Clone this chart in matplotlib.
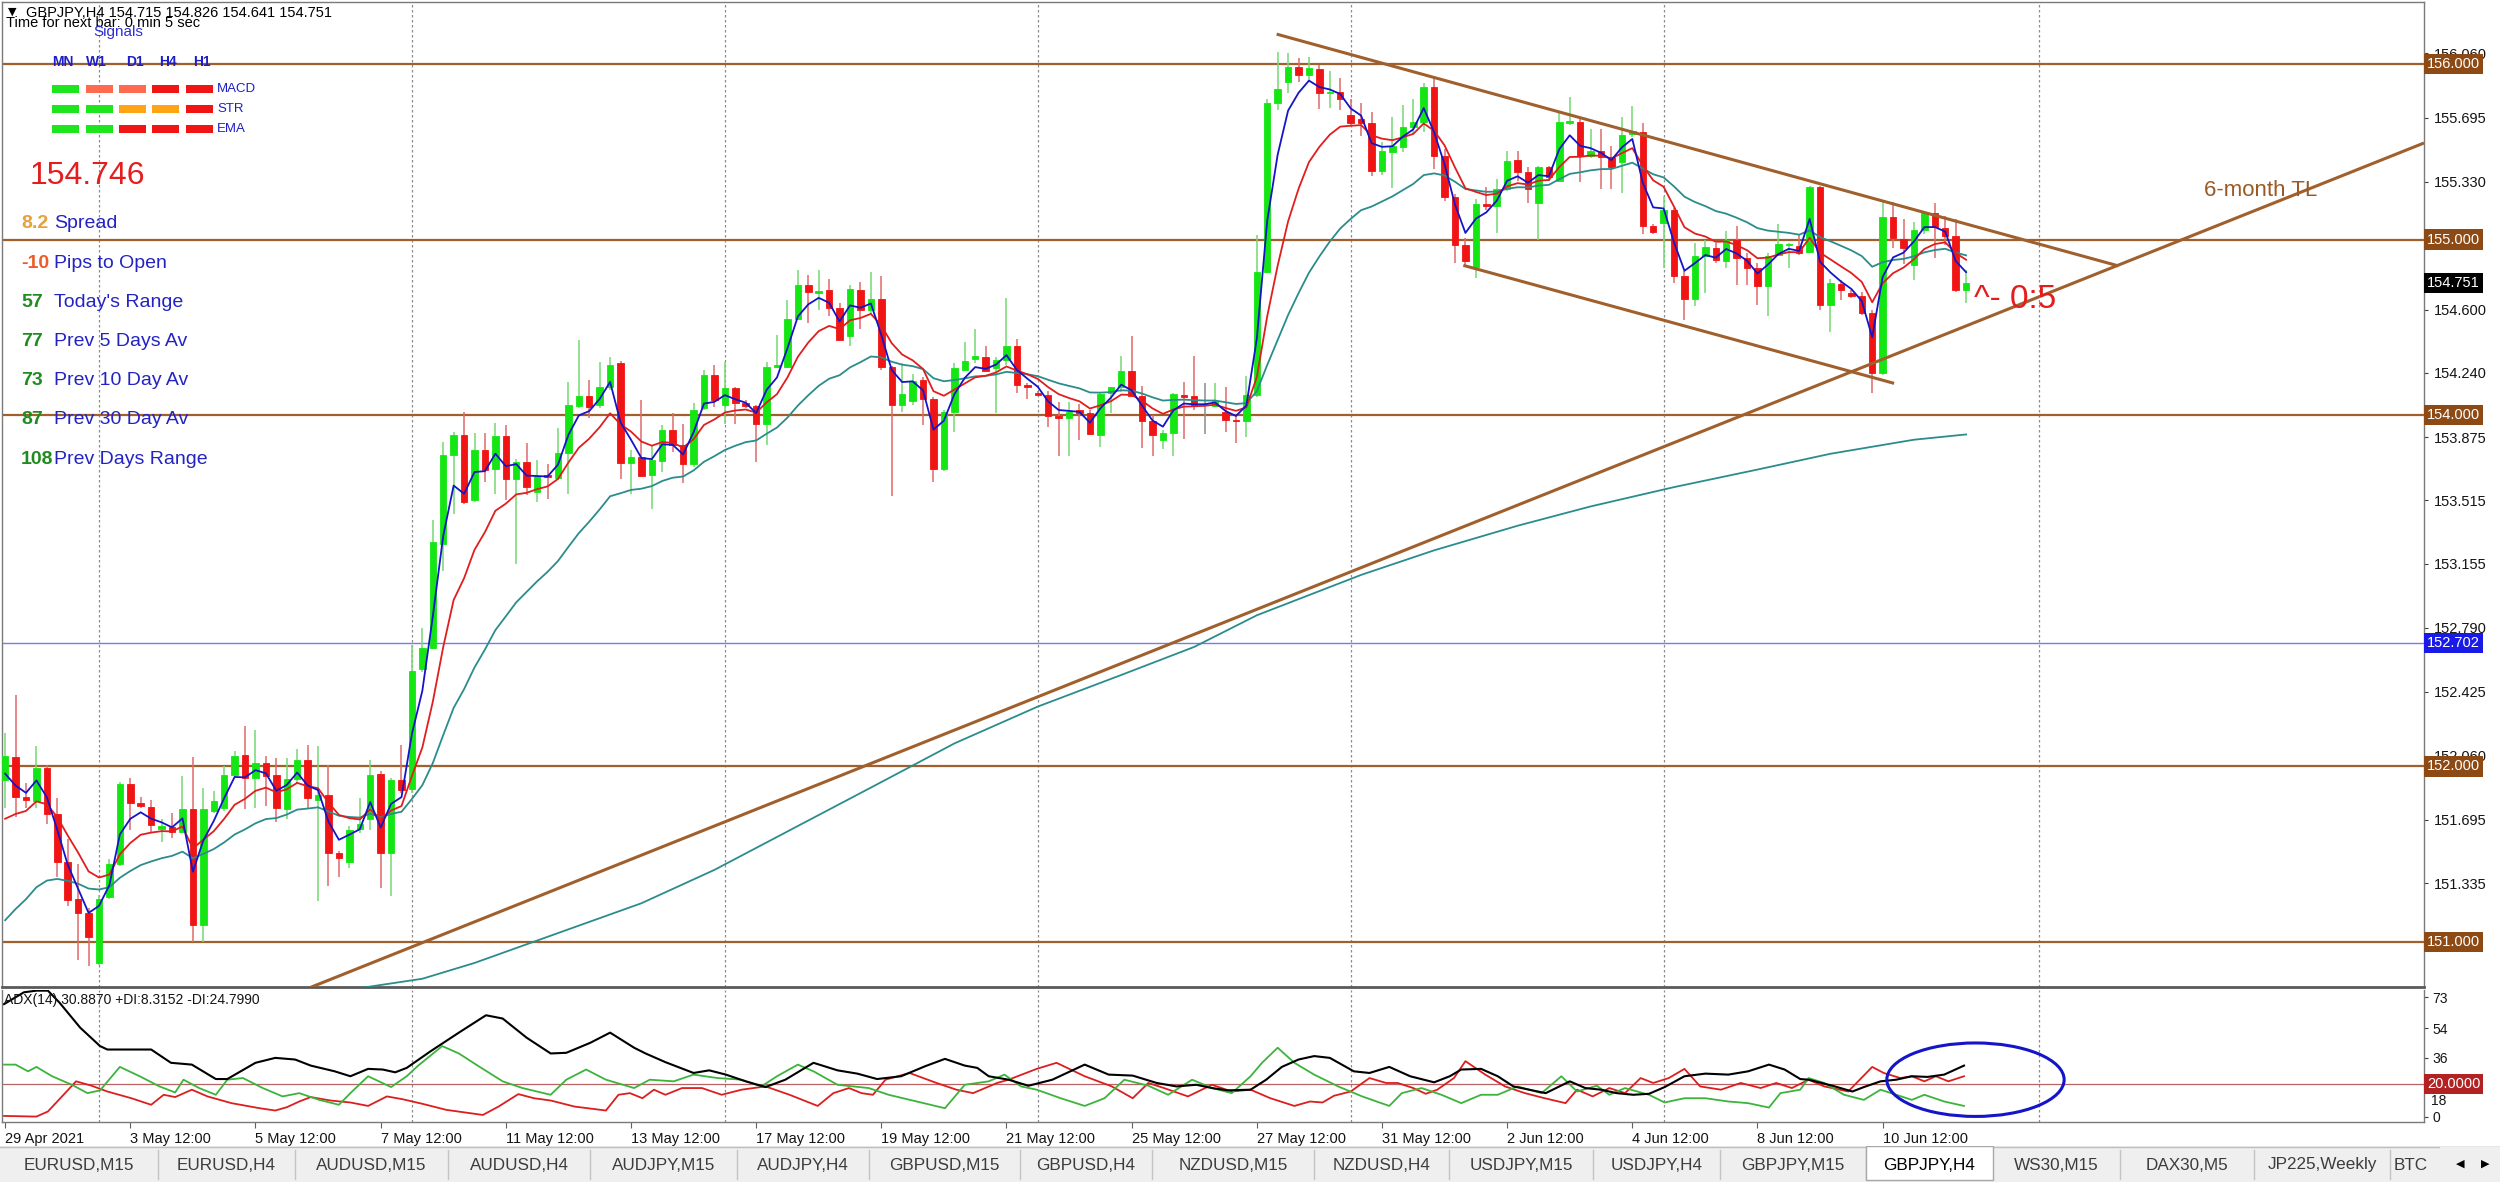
import matplotlib
matplotlib.use("Agg")
import matplotlib.pyplot as plt
from matplotlib.patches import Ellipse, Rectangle
import numpy as np
import pandas as pd

plt.rcParams['font.family'] = ['Liberation Sans', 'DejaVu Sans']

# ---------------- data ----------------
symbol = 'GBPJPY,H4'

# H4 candles, bar 0 = 29 Apr 2021 12:00
opens = [
    151.921, 152.052, 151.827, 151.800, 151.990, 151.728, 151.453, 151.245, 151.162, 150.881,
    151.256, 151.443, 151.900, 151.790, 151.770, 151.644, 151.657, 151.624, 151.755, 151.096,
    151.748, 151.765, 151.948, 152.064, 151.935, 152.019, 151.948, 151.755, 151.927, 152.035,
    151.810, 151.838, 151.505, 151.453, 151.644, 151.700, 151.958, 151.505, 151.921, 151.869,
    152.552, 152.676, 153.267, 153.771, 153.886, 153.518, 153.800, 153.695, 153.880, 153.638,
    153.733, 153.562, 153.657, 153.644, 153.785, 154.051, 154.109, 154.057, 154.162, 154.295,
    153.728, 153.762, 153.657, 153.739, 153.918, 153.829, 153.720, 154.038, 154.229, 154.057,
    154.156, 154.067, 154.051, 153.949, 154.276, 154.276, 154.547, 154.743, 154.695, 154.713,
    154.612, 154.449, 154.713, 154.598, 154.660, 154.277, 154.057, 154.082, 154.201, 154.090,
    153.694, 154.019, 154.258, 154.319, 154.331, 154.268, 154.315, 154.396, 154.172, 154.124,
    154.115, 153.994, 153.981, 154.029, 154.013, 153.885, 154.128, 154.159, 154.249, 154.109,
    153.967, 153.860, 153.899, 154.115, 154.109, 154.063, 154.052, 154.019, 153.975, 153.967,
    154.115, 154.818, 155.780, 155.899, 155.985, 155.937, 155.971, 155.832, 155.841, 155.711,
    155.685, 155.665, 155.392, 155.497, 155.526, 155.641, 155.669, 155.870, 155.474, 155.245,
    154.971, 154.843, 155.200, 155.191, 155.287, 155.455, 155.386, 155.210, 155.411, 155.335,
    155.665, 155.669, 155.474, 155.507, 155.468, 155.440, 155.602, 155.612, 155.076, 155.095,
    155.171, 154.790, 154.661, 154.909, 154.952, 154.876, 154.996, 154.895, 154.838, 154.733,
    154.914, 154.971, 154.962, 154.928, 155.299, 154.629, 154.747, 154.695, 154.680, 154.581,
    154.238, 155.130, 155.004, 154.857, 155.053, 155.152, 155.067, 155.019, 154.715,
]
highs = [
    152.190, 152.405, 151.906, 152.114, 152.010, 151.817, 151.588, 151.443, 151.193, 151.266,
    151.474, 151.910, 151.931, 151.827, 151.810, 151.700, 151.735, 151.942, 152.052, 151.879,
    151.860, 152.004, 152.087, 152.227, 152.206, 152.056, 152.046, 152.046, 152.100, 152.119,
    152.114, 152.010, 151.515, 151.660, 151.817, 152.035, 151.973, 151.931, 152.119, 152.690,
    152.790, 153.400, 153.848, 153.905, 154.019, 153.900, 153.900, 153.956, 153.943, 153.752,
    153.842, 153.743, 153.720, 153.924, 154.190, 154.429, 154.200, 154.305, 154.333, 154.309,
    153.800, 154.086, 153.829, 153.943, 154.013, 153.952, 154.067, 154.257, 154.286, 154.305,
    154.162, 154.086, 154.057, 154.300, 154.457, 154.653, 154.829, 154.800, 154.829, 154.774,
    154.641, 154.740, 154.759, 154.813, 154.790, 154.281, 154.296, 154.235, 154.216, 154.105,
    154.029, 154.296, 154.415, 154.488, 154.392, 154.331, 154.669, 154.434, 154.185, 154.140,
    154.140, 154.076, 154.076, 154.063, 154.029, 154.128, 154.163, 154.338, 154.449, 154.168,
    153.999, 153.914, 154.124, 154.191, 154.338, 154.185, 154.185, 154.159, 154.009, 154.224,
    155.027, 155.800, 156.070, 156.060, 156.036, 156.042, 155.994, 155.960, 155.918, 155.800,
    155.780, 155.726, 155.555, 155.700, 155.765, 155.803, 155.890, 155.927, 155.516, 155.260,
    155.010, 155.230, 155.300, 155.344, 155.507, 155.507, 155.411, 155.420, 155.420, 155.727,
    155.813, 155.685, 155.631, 155.631, 155.535, 155.700, 155.761, 155.665, 155.086, 155.248,
    155.181, 154.819, 154.981, 154.996, 154.981, 155.048, 155.076, 154.924, 154.866, 154.924,
    155.090, 154.981, 155.029, 155.305, 155.305, 154.775, 154.771, 154.714, 154.700, 154.600,
    155.213, 155.213, 155.118, 155.100, 155.156, 155.206, 155.133, 155.118, 154.826,
]
lows = [
    151.765, 151.713, 151.761, 151.765, 151.672, 151.370, 151.204, 150.896, 150.861, 150.870,
    151.245, 151.433, 151.640, 151.765, 151.620, 151.568, 151.590, 151.620, 151.000, 151.000,
    151.735, 151.745, 151.931, 151.755, 151.765, 151.775, 151.680, 151.697, 151.900, 151.765,
    151.235, 151.318, 151.370, 151.420, 151.619, 151.640, 151.308, 151.262, 151.850, 151.850,
    152.535, 152.667, 153.114, 153.438, 153.495, 153.505, 153.620, 153.552, 153.514, 153.152,
    153.548, 153.505, 153.524, 153.630, 153.552, 154.038, 153.985, 154.038, 154.143, 153.638,
    153.552, 153.648, 153.467, 153.676, 153.790, 153.613, 153.705, 154.029, 154.048, 153.952,
    153.949, 154.038, 153.733, 153.829, 154.266, 154.266, 154.543, 154.524, 154.600, 154.564,
    154.426, 154.392, 154.488, 154.573, 154.258, 153.541, 154.019, 154.057, 153.943, 153.618,
    153.680, 153.904, 154.258, 154.296, 154.249, 154.010, 154.287, 154.124, 154.090, 154.115,
    153.933, 153.770, 153.770, 153.857, 153.885, 153.818, 154.013, 154.134, 154.105, 153.815,
    153.770, 153.809, 153.770, 153.866, 154.030, 153.891, 154.048, 153.904, 153.841, 153.876,
    154.105, 154.808, 155.736, 155.833, 155.898, 155.910, 155.742, 155.750, 155.736, 155.650,
    155.590, 155.360, 155.365, 155.296, 155.497, 155.602, 155.612, 155.402, 155.220, 154.866,
    154.857, 154.780, 155.170, 155.038, 155.277, 155.333, 155.210, 155.000, 155.335, 155.325,
    155.650, 155.325, 155.464, 155.287, 155.287, 155.268, 155.583, 155.029, 155.029, 154.838,
    154.752, 154.543, 154.623, 154.695, 154.866, 154.838, 154.743, 154.743, 154.629, 154.562,
    154.905, 154.838, 154.914, 154.924, 154.600, 154.476, 154.657, 154.667, 154.571, 154.128,
    154.228, 154.952, 154.862, 154.768, 155.030, 154.895, 154.971, 154.700, 154.641,
]
closes = [
    152.056, 151.823, 151.807, 151.990, 151.728, 151.453, 151.241, 151.166, 151.027, 151.245,
    151.443, 151.900, 151.790, 151.775, 151.665, 151.660, 151.624, 151.755, 151.096, 151.755,
    151.800, 151.948, 152.060, 151.935, 152.019, 151.942, 151.761, 151.927, 152.035, 151.817,
    151.838, 151.505, 151.478, 151.640, 151.672, 151.952, 151.505, 151.921, 151.863, 152.545,
    152.676, 153.276, 153.771, 153.886, 153.505, 153.800, 153.686, 153.880, 153.638, 153.733,
    153.590, 153.651, 153.648, 153.785, 154.057, 154.109, 154.048, 154.162, 154.286, 153.728,
    153.762, 153.651, 153.743, 153.918, 153.829, 153.720, 154.029, 154.229, 154.086, 154.152,
    154.067, 154.051, 153.952, 154.276, 154.286, 154.547, 154.743, 154.700, 154.705, 154.612,
    154.426, 154.717, 154.598, 154.660, 154.277, 154.057, 154.120, 154.197, 154.090, 153.694,
    154.019, 154.268, 154.306, 154.335, 154.254, 154.312, 154.396, 154.172, 154.159, 154.115,
    153.994, 153.981, 154.019, 154.013, 153.895, 154.120, 154.159, 154.249, 154.109, 153.967,
    153.885, 153.899, 154.120, 154.105, 154.057, 154.063, 154.082, 153.975, 153.967, 154.115,
    154.816, 155.780, 155.860, 155.985, 155.937, 155.975, 155.832, 155.841, 155.803, 155.665,
    155.665, 155.392, 155.507, 155.535, 155.641, 155.669, 155.870, 155.474, 155.245, 154.971,
    154.876, 155.200, 155.191, 155.287, 155.449, 155.386, 155.287, 155.411, 155.354, 155.669,
    155.673, 155.474, 155.507, 155.468, 155.411, 155.597, 155.621, 155.076, 155.042, 155.171,
    154.790, 154.661, 154.909, 154.958, 154.882, 154.996, 154.895, 154.838, 154.733, 154.909,
    154.977, 154.977, 154.924, 155.299, 154.629, 154.752, 154.710, 154.676, 154.581, 154.238,
    155.130, 155.010, 154.952, 155.053, 155.152, 155.072, 155.019, 154.710, 154.751,
]

# moving averages: periods and their values at the left edge of the chart
ema_periods = [21, 8, 3]
ema_start = [151.03, 151.60, 151.86]

# slow average (bar, price)
long_ma = [(31, 150.71), (40, 150.79), (45, 150.88), (53, 151.05), (61, 151.22),
           (68, 151.41), (76, 151.66), (84, 151.91), (91, 152.13), (99, 152.34),
           (107, 152.52), (114, 152.68), (120, 152.86), (130, 153.09), (137, 153.23),
           (145, 153.37), (152, 153.48), (160, 153.59), (168, 153.69), (175, 153.78),
           (183, 153.86), (188, 153.89)]

date_labels = ['29 Apr 2021', '3 May 12:00', '5 May 12:00', '7 May 12:00', '11 May 12:00',
               '13 May 12:00', '17 May 12:00', '19 May 12:00', '21 May 12:00', '25 May 12:00',
               '27 May 12:00', '31 May 12:00', '2 Jun 12:00', '4 Jun 12:00', '8 Jun 12:00',
               '10 Jun 12:00']
bars_per_label = 12
grid_bars = [9, 39, 69, 99, 129, 159, 195]

h_levels = [156.0, 155.0, 154.0, 152.0, 151.0]
blue_level = 152.702
price_ticks = [156.060, 155.695, 155.330, 154.600, 154.240, 153.875, 153.515,
               153.155, 152.790, 152.425, 152.060, 151.695, 151.335]

# drawn objects (bar, price)
tl_6m = [(29.2, 150.739), (231.9, 155.55)]
chan_top = [(121.9, 156.17), (202.6, 154.85)]
chan_bot = [(139.8, 154.853), (181.1, 154.181)]

# ADX(14) window (bar, value)
adx = [(-0.1, 68.8), (1.8, 76.0), (3.0, 77.0), (4.1, 77.0), (5.2, 69.8), (7.2, 54.4), (9.1, 43.2),
       (9.8, 41.1), (14.0, 41.1), (15.9, 33.0), (17.9, 31.9), (20.2, 23.1), (21.3, 23.1), (24.0, 33.0),
       (25.9, 36.0), (27.8, 35.0), (29.3, 31.3), (31.6, 27.8), (33.1, 24.8), (34.8, 29.3), (36.2, 28.9),
       (37.4, 27.2), (38.5, 29.9), (40.8, 40.1), (43.5, 51.4), (46.1, 62.0), (47.7, 60.0), (50.0, 48.3),
       (52.3, 38.7), (53.8, 39.1), (56.1, 45.2), (58.0, 51.4), (60.3, 42.2), (61.4, 38.7), (63.3, 33.4),
       (66.0, 26.8), (67.5, 28.4), (69.1, 25.8), (71.0, 21.7), (72.9, 18.2), (74.8, 22.7), (77.5, 33.0),
       (79.8, 28.4), (81.7, 26.4), (83.6, 23.1), (85.9, 24.8), (88.2, 30.9), (90.1, 35.4), (92.0, 31.3),
       (93.2, 29.9), (94.3, 24.8), (96.2, 22.7), (98.1, 19.0), (100.4, 22.7), (103.5, 31.9), (105.8, 25.8),
       (108.1, 25.2), (110.4, 20.7), (112.3, 18.6), (114.2, 19.6), (115.7, 17.6), (117.2, 16.2),
       (119.4, 16.6), (120.9, 22.7), (122.4, 30.5), (124.0, 35.0), (125.5, 37.1), (127.0, 36.0),
       (129.3, 27.8), (130.8, 26.8), (132.7, 30.5), (134.7, 24.8), (137.0, 21.1), (138.5, 24.8),
       (139.6, 28.9), (141.5, 29.3), (143.1, 24.8), (144.6, 18.6), (147.7, 14.5), (150.0, 21.7),
       (151.5, 17.6), (153.0, 16.6), (154.5, 14.5), (156.1, 13.5), (157.6, 14.1), (159.1, 18.2),
       (161.0, 24.8), (163.0, 26.4), (165.2, 25.8), (167.1, 27.8), (169.1, 31.9), (170.6, 28.9),
       (172.1, 23.1), (172.9, 22.7), (175.2, 19.0), (177.1, 15.5), (178.2, 18.2), (179.8, 21.7),
       (181.3, 22.7), (182.8, 24.8), (184.3, 24.4), (185.9, 25.8), (187.8, 31.3)]
plus_di = [(-0.1, 31.9), (1.0, 31.9), (2.2, 27.8), (3.0, 30.5), (4.5, 24.8), (6.4, 19.6), (7.9, 14.5),
           (9.1, 16.2), (11.0, 30.5), (12.9, 24.8), (14.8, 18.6), (16.3, 14.9), (17.1, 22.7), (18.6, 17.6),
           (20.2, 13.5), (21.3, 22.7), (22.8, 23.7), (24.7, 17.6), (26.6, 12.5), (28.2, 14.5), (30.1, 10.4),
           (32.0, 7.4), (33.1, 14.5), (34.8, 24.8), (37.0, 18.2), (38.5, 24.8), (39.6, 31.3), (41.9, 43.2),
           (43.5, 38.7), (45.4, 30.9), (47.7, 21.7), (49.6, 17.6), (52.3, 13.5), (53.8, 22.7), (55.7, 28.9),
           (57.6, 22.7), (60.3, 17.6), (61.8, 22.7), (64.1, 21.7), (66.0, 25.8), (68.3, 23.7), (70.6, 22.7),
           (72.5, 18.6), (74.0, 24.8), (76.0, 31.9), (77.5, 27.8), (79.8, 19.6), (82.8, 17.6), (84.7, 13.5),
           (87.4, 9.4), (90.1, 5.3), (92.0, 19.6), (94.3, 21.7), (95.8, 25.8), (97.4, 18.6), (98.9, 16.6),
           (101.2, 11.4), (103.5, 6.7), (105.4, 11.4), (107.3, 22.7), (109.6, 19.0), (111.5, 13.5),
           (113.8, 22.7), (115.7, 17.6), (117.6, 14.5), (119.4, 24.8), (120.5, 33.0), (122.0, 42.2),
           (123.6, 33.0), (125.5, 25.8), (127.8, 18.6), (130.1, 12.5), (132.7, 6.7), (133.9, 14.5),
           (135.8, 17.6), (137.7, 13.5), (139.6, 8.4), (141.5, 13.5), (143.1, 13.5), (145.0, 18.6),
           (147.3, 14.5), (149.2, 24.8), (150.7, 15.5), (152.6, 19.0), (153.8, 13.5), (155.3, 17.6),
           (157.6, 13.5), (159.1, 8.8), (161.0, 11.4), (163.0, 11.4), (165.2, 9.4), (167.1, 8.4),
           (169.1, 5.7), (170.2, 14.5), (172.1, 16.6), (172.9, 23.7), (174.4, 20.7), (176.3, 13.5),
           (178.2, 10.4), (179.8, 16.6), (181.3, 13.5), (182.8, 10.4), (184.0, 13.5), (185.9, 9.4),
           (187.8, 6.7)]
minus_di = [(-0.1, 0.6), (3.0, 0.2), (4.1, 3.3), (5.6, 13.5), (6.8, 21.7), (8.3, 19.0), (9.8, 15.5),
            (12.1, 11.4), (14.0, 7.4), (15.2, 13.5), (16.3, 12.1), (17.9, 16.6), (19.4, 12.5), (21.7, 8.4),
            (24.4, 5.3), (25.9, 3.9), (27.0, 5.9), (28.2, 9.4), (29.3, 12.1), (31.2, 10.0), (33.1, 8.8),
            (34.8, 6.7), (36.6, 12.5), (38.1, 10.8), (40.0, 8.0), (42.3, 4.3), (45.8, 1.2), (47.3, 6.3),
            (49.2, 13.9), (50.7, 11.4), (52.3, 10.0), (54.6, 6.3), (57.6, 3.9), (58.8, 13.5), (59.9, 14.5),
            (61.1, 11.4), (62.2, 16.6), (63.3, 13.5), (64.9, 17.6), (66.8, 17.6), (68.7, 13.5), (70.6, 16.6),
            (72.9, 18.6), (75.2, 13.5), (77.9, 6.7), (79.4, 14.5), (80.9, 17.6), (82.1, 14.5), (83.2, 13.5),
            (84.4, 22.7), (86.7, 26.8), (89.3, 20.7), (91.2, 16.6), (92.8, 14.5), (95.1, 20.7), (96.2, 22.7),
            (98.9, 29.3), (100.8, 33.0), (103.5, 24.8), (106.1, 18.6), (108.1, 11.4), (109.6, 20.7),
            (111.1, 17.6), (113.4, 12.5), (115.7, 19.6), (117.6, 15.5), (119.4, 16.6), (121.3, 11.4),
            (123.6, 6.7), (125.1, 9.4), (126.3, 8.8), (127.4, 12.9), (129.0, 15.5), (130.8, 23.7),
            (132.4, 20.7), (133.5, 20.7), (135.0, 17.6), (136.2, 14.1), (137.3, 16.6), (138.9, 23.7),
            (140.0, 34.0), (141.9, 25.8), (143.8, 18.6), (145.7, 14.5), (147.6, 11.4), (149.6, 8.4),
            (150.7, 16.6), (152.2, 12.5), (153.8, 17.6), (155.3, 14.5), (156.8, 23.7), (158.0, 20.7),
            (159.5, 23.7), (161.0, 29.3), (162.5, 18.6), (164.5, 16.6), (166.4, 20.7), (168.3, 17.6),
            (169.8, 20.7), (171.3, 17.6), (172.9, 22.7), (174.4, 18.6), (176.7, 15.5), (179.0, 30.5),
            (180.1, 26.8), (181.7, 23.7), (182.8, 24.8), (184.0, 21.7), (185.1, 24.8), (186.3, 21.7),
            (187.8, 24.8)]
adx_header = 'ADX(14) 30.8870 +DI:8.3152 -DI:24.7990'
adx_level = 20
adx_ticks = [0, 18, 36, 54, 73]
circled = (188.9, 22.7, 17.0, 44.8)   # centre bar, centre value, width (bars), height

bid = 154.746
info_values = ['8.2', '-10', '57', '77', '73', '87', '108']
info_names = ['Spread', 'Pips to Open', "Today's Range", 'Prev 5 Days Av',
              'Prev 10 Day Av', 'Prev 30 Day Av', 'Prev Days Range']
signal_periods = ['MN', 'W1', 'D1', 'H4', 'H1']
signal_rows = ['MACD', 'STR', 'EMA']
signal_states = [['up', 'weak', 'weak', 'down', 'down'],
                 ['up', 'up', 'flat', 'flat', 'down'],
                 ['up', 'up', 'down', 'down', 'down']]
tabs = ['EURUSD,M15', 'EURUSD,H4', 'AUDUSD,M15', 'AUDUSD,H4', 'AUDJPY,M15', 'AUDJPY,H4',
        'GBPUSD,M15', 'GBPUSD,H4', 'NZDUSD,M15', 'NZDUSD,H4', 'USDJPY,M15', 'USDJPY,H4',
        'GBPJPY,M15', 'GBPJPY,H4', 'WS30,M15', 'DAX30,M5', 'JP225,Weekly', 'BTC']

# ---------------- layout ----------------
W, H = 2500, 1182
BROWN = '#A0602D'
fig = plt.figure(figsize=(W / 100, H / 100), dpi=100)
fig.patch.set_facecolor('white')


def box(x0, y0, x1, y1):
    return [x0 / W, 1 - y1 / H, (x1 - x0) / W, (y1 - y0) / H]


def put(x, y, s, **kw):
    fig.text(x / W, 1 - y / H, s, va='center', **kw)


ax = fig.add_axes(box(2, 2, 2424, 987))
ax2 = fig.add_axes(box(2, 990, 2424, 1122))
tab_ax = fig.add_axes(box(0, 1146, 2500, 1182))

# ---------------- price window ----------------
o, h, l, c = map(np.array, (opens, highs, lows, closes))
idx = np.arange(len(c))
body_col = np.where(c > o, '#14E614', np.where(c < o, '#F01414', '#8C8C8C'))
wick_col = np.where(c > o, '#74D874', np.where(c < o, '#E06A6A', '#8C8C8C'))

for b in grid_bars:
    for a in (ax, ax2):
        a.axvline(b, color='#8C8C8C', lw=0.9, ls=(0, (2, 2)), zorder=1)

for lv in h_levels:
    ax.axhline(lv, color=BROWN, lw=1.6, zorder=2)
ax.axhline(blue_level, color='#7A7AE6', lw=1.0, zorder=2)

ax.vlines(idx, l, h, colors=wick_col, linewidth=1.1, zorder=3)
ax.bar(idx, np.abs(c - o), bottom=np.minimum(o, c), width=0.62,
       color=body_col, edgecolor=body_col, linewidth=0.6, zorder=4)

for n, start, col in zip(ema_periods, ema_start, ['#2B8C8C', '#E01E1E', '#1414C8']):
    line = pd.Series([start] + closes).ewm(span=n, adjust=False).mean().to_numpy()[1:]
    ax.plot(idx, line, color=col, lw=1.3, zorder=5)

mb, mv = zip(*long_ma)
ax.plot(mb, mv, color='#2B8C8C', lw=1.3, zorder=5)

for seg in (tl_6m, chan_top, chan_bot):
    xs, ys = zip(*seg)
    ax.plot(xs, ys, color=BROWN, lw=2.2, zorder=6, solid_capstyle='butt')

ax.text(210.8, 155.28, '6-month TL', color='#9A5A24', fontsize=16, va='center', zorder=8)
ax.text(188.8, 154.66, '^- 0:5', color='#E41C1C', fontsize=24, va='center', zorder=8)

ax.set_xlim(-0.3, 231.9)
ax.set_ylim(150.743, 156.353)
ax.set_xticks([])
ax.yaxis.tick_right()
ax.set_yticks(price_ticks)
ax.set_yticklabels([f'{p:.3f}' for p in price_ticks])
ax.tick_params(axis='y', length=3, width=0.8, color='#404040', labelsize=10.5,
               pad=4, labelcolor='#141414')


def level_box(a, y, text, fc):
    a.text(1.0012, y, text, transform=a.get_yaxis_transform(), ha='left', va='center',
           fontsize=10.5, color='white', clip_on=False, zorder=20,
           bbox=dict(boxstyle='square,pad=0.22', fc=fc, ec='none'))


for lv in h_levels:
    level_box(ax, lv, f'{lv:.3f}', '#8E4A14')
level_box(ax, blue_level, f'{blue_level:.3f}', '#1A1AE6')
level_box(ax, closes[-1], f'{closes[-1]:.3f}', '#000000')

# ---------------- ADX window ----------------
ax2.axhline(adx_level, color='#B86464', lw=0.9, zorder=2)
for pts, col, lw in ((minus_di, '#DC1E1E', 1.3), (plus_di, '#3CB43C', 1.3), (adx, '#000000', 1.5)):
    xs, ys = zip(*pts)
    ax2.plot(xs, ys, color=col, lw=lw, zorder=4)
ax2.add_patch(Ellipse(circled[:2], circled[2], circled[3], fill=False, ec='#1414C8',
                      lw=2.2, zorder=6, clip_on=False))
ax2.set_xlim(-0.3, 231.9)
ax2.set_ylim(-3.1, 77.4)
ax2.yaxis.tick_right()
# the label next to the 20 level box is pushed below it, as in the terminal
near_box = [t for t in adx_ticks if abs(t - adx_level) < 5]
ax2.set_yticks(adx_ticks, labels=['' if t in near_box else str(t) for t in adx_ticks])
ax2.tick_params(axis='y', length=3, width=0.8, color='#404040', labelsize=10, pad=3,
                labelcolor='#141414')
for t in near_box:
    ax2.annotate(str(t), xy=(1, t), xycoords=('axes fraction', 'data'),
                 xytext=(5, -10), textcoords='offset points', ha='left', va='center',
                 fontsize=10, color='#141414', annotation_clip=False, zorder=1)
level_box(ax2, adx_level, f'{adx_level:.4f}', '#B22222')
ax2.set_xticks(np.arange(len(date_labels)) * bars_per_label)
ax2.set_xticklabels(date_labels, ha='left', fontsize=10.5, color='#141414')
ax2.tick_params(axis='x', length=4, color='#606060', pad=3)

for a in (ax, ax2):
    a.set_facecolor('white')
    for s in a.spines.values():
        s.set_color('#7A7A7A')
        s.set_linewidth(1.0)
ax.spines['bottom'].set_linewidth(2.0)
ax.spines['bottom'].set_color('#5A5A5A')
ax2.spines['top'].set_visible(False)

# ---------------- overlays ----------------
put(8, 12, '\u25bc', fontsize=8, color='black', family='DejaVu Sans')
put(26, 13, f'{symbol} {opens[-1]:.3f} {highs[-1]:.3f} {lows[-1]:.3f} {closes[-1]:.3f}',
    fontsize=10.5, color='black')
put(6, 23, 'Time for next bar: 0 min 5 sec', fontsize=10.5, color='black')
put(93, 32, 'Signals', fontsize=11, color='#2E2ED8')

state_col = {'up': '#1EE61E', 'weak': '#FF6A50', 'flat': '#FFA514', 'down': '#F01414'}
period_x = [52, 86, 126, 159, 193]
block_x = [52, 86, 119, 152, 186]
for px, name in zip(period_x, signal_periods):
    put(px, 62, name, fontsize=10, fontweight='bold', color='#1E1EC8')
for r, (name, states) in enumerate(zip(signal_rows, signal_states)):
    y = 89 + r * 20
    for bx, st in zip(block_x, states):
        fig.add_artist(Rectangle((bx / W, 1 - (y + 4) / H), 27 / W, 8 / H,
                                 transform=fig.transFigure, fc=state_col[st], ec='none', zorder=10))
    put(217, y, name, fontsize=9.5, color='#1E1EC8')

put(30, 176, f'{bid:.3f}', fontsize=23, color='#E41E1E')
num_cols = ['#E8A03C', '#EE5A28'] + ['#208C20'] * 5
for k, (v, name, nc) in enumerate(zip(info_values, info_names, num_cols)):
    y = 224 + k * 39.2
    put(21, y, v, fontsize=14, fontweight='bold', color=nc)
    put(54, y, name, fontsize=14, color='#2323C3')

put(4, 1000, adx_header, fontsize=10, color='#141414')

# ---------------- tab bar ----------------
tab_edges = [0, 158, 295, 448, 590, 737, 869, 1020, 1152, 1314, 1449, 1593,
             1720, 1866, 1993, 2120, 2254, 2390, 2560]
tab_ax.set_xlim(0, W)
tab_ax.set_ylim(36, 0)
tab_ax.axis('off')
tab_ax.add_patch(Rectangle((0, 0), W, 36, fc='#EFEFEF', ec='none', zorder=0))
tab_ax.plot([0, W], [0.5, 0.5], color='#BEBEBE', lw=1, zorder=1)
for i, name in enumerate(tabs):
    x0, x1 = tab_edges[i], tab_edges[i + 1]
    active = name == symbol
    if active:
        tab_ax.add_patch(Rectangle((x0, 0), x1 - x0, 34, fc='white', ec='#A8A8A8',
                                   lw=1, zorder=2))
    else:
        tab_ax.plot([x1, x1], [4, 33], color='#C4C4C4', lw=1, zorder=1)
    if i == len(tabs) - 1:
        tab_ax.text(x0 + 4, 19, name, ha='left', va='center', fontsize=12.3,
                    color='#3C3C3C', zorder=3)
    else:
        tab_ax.text((x0 + x1) / 2, 19, name, ha='center', va='center', fontsize=12.3,
                    color='#000000' if active else '#3C3C3C', zorder=3)
tab_ax.add_patch(Rectangle((2440, 1), 60, 35, fc='#EFEFEF', ec='none', zorder=4))
tab_ax.text(2460, 18, '\u25c0', ha='center', va='center', fontsize=8, color='black',
            family='DejaVu Sans', zorder=5)
tab_ax.text(2485, 18, '\u25b6', ha='center', va='center', fontsize=8, color='black',
            family='DejaVu Sans', zorder=5)

fig.savefig('out.png', dpi=100)
